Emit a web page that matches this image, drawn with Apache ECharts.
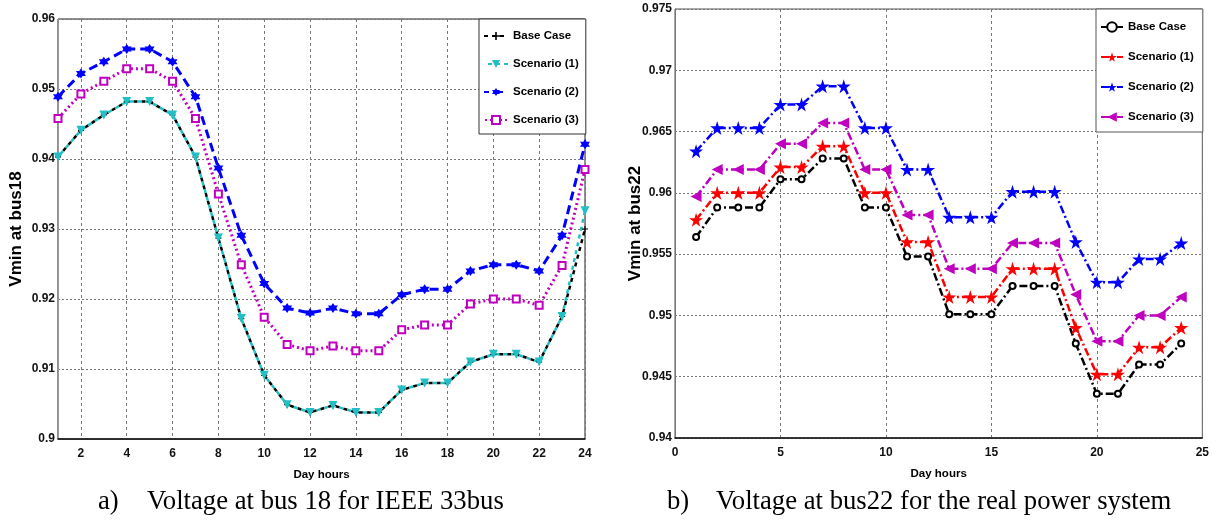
<!DOCTYPE html>
<html>
<head>
<meta charset="utf-8">
<script src="https://cdn.jsdelivr.net/npm/echarts@6/dist/echarts.min.js"></script>
<style>
  html, body { margin: 0; padding: 0; background: #fff; }
  #wrap { position: relative; width: 1212px; height: 522px; }
  .chart { position: absolute; top: 0; width: 606px; height: 522px; }
</style>
</head>
<body>
<div id="wrap">
  <div id="chartA" class="chart" style="left: 0;"></div>
  <div id="chartB" class="chart" style="left: 606px;"></div>
</div>
<script>
// a) bus 18, IEEE 33bus
const hoursA = ['1','2','3','4','5','6','7','8','9','10','11','12','13','14','15','16','17','18','19','20','21','22','23','24']
const baseA = [0.9403,0.9441,0.9463,0.9482,0.9482,0.9463,0.9403,0.9287,0.9172,0.9091,0.9049,0.9038,0.9048,0.9038,0.9038,0.9070,0.9080,0.9080,0.9110,0.9121,0.9121,0.9110,0.9175,0.9300]
const scen1A = [0.9403,0.9441,0.9463,0.9482,0.9482,0.9463,0.9403,0.9287,0.9172,0.9091,0.9049,0.9038,0.9048,0.9038,0.9038,0.9070,0.9080,0.9080,0.9110,0.9121,0.9121,0.9110,0.9175,0.9326]
const scen2A = [0.9489,0.9522,0.9539,0.9557,0.9557,0.9539,0.9489,0.9387,0.9291,0.9222,0.9187,0.9180,0.9187,0.9179,0.9179,0.9206,0.9214,0.9214,0.9240,0.9249,0.9249,0.9240,0.9291,0.9421]
const scen3A = [0.9458,0.9493,0.9511,0.9529,0.9529,0.9511,0.9458,0.9350,0.9249,0.9174,0.9135,0.9126,0.9133,0.9126,0.9126,0.9156,0.9163,0.9163,0.9193,0.9200,0.9200,0.9191,0.9248,0.9385]

// b) bus22, real power system
const hoursB = [1,2,3,4,5,6,7,8,9,10,11,12,13,14,15,16,17,18,19,20,21,22,23,24]
const baseB = [0.9564,0.9588,0.9588,0.9588,0.9611,0.9611,0.9628,0.9628,0.9588,0.9588,0.9548,0.9548,0.9501,0.9501,0.9501,0.9524,0.9524,0.9524,0.9477,0.9436,0.9436,0.9460,0.9460,0.9477]
const scen1B = [0.9578,0.9600,0.9600,0.9600,0.9621,0.9621,0.9638,0.9638,0.9600,0.9600,0.9560,0.9560,0.9515,0.9515,0.9515,0.9538,0.9538,0.9538,0.9490,0.9452,0.9452,0.9474,0.9474,0.9490]
const scen2B = [0.9634,0.9653,0.9653,0.9653,0.9672,0.9672,0.9687,0.9687,0.9653,0.9653,0.9619,0.9619,0.9580,0.9580,0.9580,0.9601,0.9601,0.9601,0.9560,0.9527,0.9527,0.9546,0.9546,0.9559]
const scen3B = [0.9597,0.9619,0.9619,0.9619,0.9640,0.9640,0.9657,0.9657,0.9619,0.9619,0.9582,0.9582,0.9538,0.9538,0.9538,0.9559,0.9559,0.9559,0.9517,0.9479,0.9479,0.9500,0.9500,0.9515]

const sans = "'Liberation Sans', Arial, sans-serif"
const serif = "'Liberation Serif', 'Times New Roman', serif"

// marker shapes
const star5 = 'path://M50,0 L61,35 L98,35 L68,57 L79,91 L50,70 L21,91 L32,57 L2,35 L39,35 Z'
const star6 = 'path://M50,0 L64.5,24.9 L93.3,25 L79,50 L93.3,75 L64.5,75.1 L50,100 L35.5,75.1 L6.7,75 L21,50 L6.7,25 L35.5,24.9 Z'
const plus = 'path://M40,0 L60,0 L60,40 L100,40 L100,60 L60,60 L60,100 L40,100 L40,60 L0,60 L0,40 L40,40 Z'

const evenHour = (i) => i % 2 === 1
const tickFont = {fontFamily: sans, fontWeight: 'bold', fontSize: 12, color: '#111'}
const nameFontX = {fontFamily: sans, fontWeight: 'bold', fontSize: 11.5, color: '#000'}
const nameFontY = {fontFamily: sans, fontWeight: 'bold', fontSize: 17, color: '#000'}
const legendFont = {fontFamily: sans, fontWeight: 'bold', fontSize: 11.5, color: '#000'}

function caption(label, text, xLabel, xText) {
  return [
    {type: 'text', left: xLabel, top: 488, style: {text: label, font: '26.7px ' + serif, fill: '#000'}},
    {type: 'text', left: xText, top: 488, style: {text: text, font: '26.7px ' + serif, fill: '#000'}}
  ]
}

const chartA = echarts.init(document.getElementById('chartA'))
chartA.setOption({
  animation: false,
  grid: {left: 48, right: 21, top: 19, bottom: 83, show: true, borderColor: '#222', borderWidth: 1},
  legend: {
    orient: 'vertical', left: 479, top: 19,
    padding: [11, 7, 8, 4], itemGap: 16, itemWidth: 24, itemHeight: 10, itemTextGap: 3,
    backgroundColor: '#fff', borderColor: '#333', borderWidth: 1,
    textStyle: legendFont,
    data: ['Base Case', 'Scenario (1)', 'Scenario (2)', 'Scenario (3)']
  },
  xAxis: {
    type: 'category', data: hoursA, boundaryGap: false,
    name: 'Day hours', nameLocation: 'middle', nameGap: 30,
    nameTextStyle: nameFontX,
    axisLine: {lineStyle: {color: '#111', width: 1.5}},
    axisTick: {show: false},
    axisLabel: Object.assign({interval: evenHour, margin: 9}, tickFont),
    splitLine: {show: true, interval: evenHour, lineStyle: {color: '#777', type: [3, 3]}}
  },
  yAxis: {
    type: 'value', min: 0.9, max: 0.96, interval: 0.01,
    name: 'Vmin at bus18', nameLocation: 'middle', nameGap: 33, nameMoveOverlap: false,
    nameTextStyle: nameFontY,
    axisLine: {show: true, lineStyle: {color: '#999'}},
    axisTick: {show: false},
    axisLabel: Object.assign({margin: 3}, tickFont),
    splitLine: {lineStyle: {color: '#777', type: [2, 2]}}
  },
  series: [
    {name: 'Base Case', type: 'line', data: baseA, color: '#000', symbol: plus, symbolSize: 6,
      lineStyle: {width: 2.5, type: [4, 4]}},
    {name: 'Scenario (1)', type: 'line', data: scen1A, color: '#22bfc4', symbol: 'triangle', symbolRotate: 180, symbolSize: 9,
      lineStyle: {width: 2.5, type: [4, 4], dashOffset: 4}},
    {name: 'Scenario (2)', type: 'line', data: scen2A, color: '#0000ff', symbol: star6, symbolSize: 10,
      lineStyle: {width: 3, type: [9, 5]}},
    {name: 'Scenario (3)', type: 'line', data: scen3A, color: '#c000c0', symbol: 'emptyRect', symbolSize: 7,
      itemStyle: {borderWidth: 2}, lineStyle: {width: 3, type: [2, 3]}}
  ],
  graphic: caption('a)', 'Voltage at bus 18 for IEEE 33bus', 98, 147)
})

const chartB = echarts.init(document.getElementById('chartB'))
const pairs = (vals) => hoursB.map((h, i) => [h, vals[i]])
const dashDot = [8, 3, 2, 3]
chartB.setOption({
  animation: false,
  grid: {left: 69, right: 9, top: 9, bottom: 84, show: true, borderColor: '#555', borderWidth: 1},
  legend: {
    orient: 'vertical', left: 490, top: 9,
    padding: [12, 9, 9, 4], itemGap: 18, itemWidth: 22, itemHeight: 12, itemTextGap: 4,
    backgroundColor: '#fff', borderColor: '#555', borderWidth: 1,
    textStyle: legendFont,
    data: ['Base Case', 'Scenario (1)', 'Scenario (2)', 'Scenario (3)']
  },
  xAxis: {
    type: 'value', min: 0, max: 25, interval: 5,
    name: 'Day hours', nameLocation: 'middle', nameGap: 30,
    nameTextStyle: nameFontX,
    axisLine: {lineStyle: {color: '#111', width: 1.5}},
    axisTick: {show: false},
    axisLabel: Object.assign({margin: 9}, tickFont),
    splitLine: {show: true, lineStyle: {color: '#777', type: [3, 3]}}
  },
  yAxis: {
    type: 'value', min: 0.94, max: 0.975, interval: 0.005,
    name: 'Vmin at bus22', nameLocation: 'middle', nameGap: 31, nameMoveOverlap: false,
    nameTextStyle: nameFontY,
    axisLine: {show: true, lineStyle: {color: '#777'}},
    axisTick: {show: false},
    axisLabel: Object.assign({margin: 3}, tickFont),
    splitLine: {lineStyle: {color: '#777', type: [2, 2]}}
  },
  series: [
    {name: 'Base Case', type: 'line', data: pairs(baseB), color: '#000', symbol: 'emptyCircle', symbolSize: 6,
      itemStyle: {borderWidth: 2}, lineStyle: {width: 2.5, type: dashDot}},
    {name: 'Scenario (1)', type: 'line', data: pairs(scen1B), color: '#ff0000', symbol: star5, symbolSize: 14,
      lineStyle: {width: 2.5, type: dashDot}},
    {name: 'Scenario (2)', type: 'line', data: pairs(scen2B), color: '#0000ff', symbol: star5, symbolSize: 14,
      lineStyle: {width: 2.5, type: dashDot}},
    {name: 'Scenario (3)', type: 'line', data: pairs(scen3B), color: '#bf00bf', symbol: 'triangle', symbolRotate: 90, symbolSize: 11,
      lineStyle: {width: 2.5, type: dashDot}}
  ],
  graphic: caption('b)', 'Voltage at bus22 for the real power system', 61, 110)
})
</script>
</body>
</html>
